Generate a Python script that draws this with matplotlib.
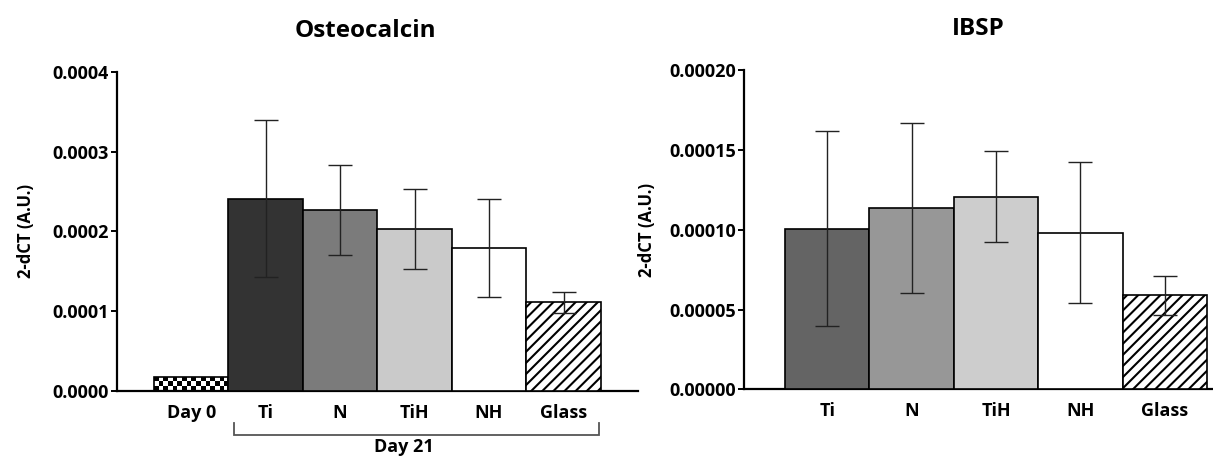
import numpy as np
import matplotlib
matplotlib.use('Agg')
import matplotlib.pyplot as plt
from matplotlib.ticker import FormatStrFormatter, MultipleLocator
import matplotlib.transforms as mtransforms

plt.rcParams['font.family'] = ['Open Sans', 'DejaVu Sans']
plt.rcParams['font.weight'] = 'bold'
plt.rcParams['hatch.linewidth'] = 1.5

# ---- data: Osteocalcin ----
oc_categories = ['Day 0', 'Ti', 'N', 'TiH', 'NH', 'Glass']
oc_values = [0.000018, 0.000241, 0.000227, 0.000203, 0.000179, 0.000111]
oc_errors = [np.nan, 0.0000985, 0.000057, 0.000050, 0.0000615, 0.0000135]

# ---- data: IBSP ----
ib_categories = ['Ti', 'N', 'TiH', 'NH', 'Glass']
ib_values = [0.0001006, 0.0001137, 0.0001207, 0.0000982, 0.0000590]
ib_errors = [0.0000612, 0.0000535, 0.0000284, 0.0000442, 0.0000122]

group_label = 'Day 21'
ylabel = '2-dCT (A.U.)'

# ---- styles ----
oc_colors = ['white', '#333333', '#7b7b7b', '#cacaca', 'white', 'white']
oc_hatches = [None, None, None, None, None, '///']
ib_colors = ['#646464', '#979797', '#cdcdcd', 'white', 'white']
ib_hatches = [None, None, None, None, '///']

TICK_FS = 13
fig = plt.figure(figsize=(12.13, 4.59), dpi=100)
W, H = 1213.0, 459.0
ax1 = fig.add_axes([116.7 / W, (H - 391) / H, 521.3 / W, 319 / H])
ax2 = fig.add_axes([744.0 / W, (H - 389.3) / H, 469.0 / W, 319 / H])


def style_axes(ax, fmt, step, top, title, title_pad):
    for s in ['top', 'right']:
        ax.spines[s].set_visible(False)
    for s in ['left', 'bottom']:
        ax.spines[s].set_linewidth(1.6)
    ax.set_ylim(0, top)
    ax.yaxis.set_major_locator(MultipleLocator(step))
    ax.yaxis.set_major_formatter(FormatStrFormatter(fmt))
    ax.tick_params(axis='y', length=4.5, width=1.4, pad=1.0, labelsize=TICK_FS)
    ax.tick_params(axis='x', length=0, pad=9, labelsize=TICK_FS)
    ax.set_title(title, fontsize=17.5, fontweight='bold', pad=title_pad)
    ax.set_ylabel(ylabel, fontsize=12, fontweight='bold')
    for lbl in ax.get_xticklabels() + ax.get_yticklabels():
        lbl.set_fontweight('bold')


def draw_bars(ax, cats, vals, errs, colors, hatches):
    x = np.arange(len(cats))
    bars = ax.bar(x, vals, width=1.0, color=colors, edgecolor='black',
                  linewidth=1.2, zorder=3)
    for b, h in zip(bars, hatches):
        if h:
            b.set_hatch(h)
    errs = np.asarray(errs, dtype=float)
    m = ~np.isnan(errs)
    ax.errorbar(x[m], np.asarray(vals)[m], yerr=errs[m], fmt='none',
                ecolor='#222222', elinewidth=1.0, capsize=8.5,
                capthick=1.0, zorder=5)
    ax.set_xticks(x)
    ax.set_xticklabels(cats)
    return bars


# ---- left panel ----
bars1 = draw_bars(ax1, oc_categories, oc_values, oc_errors, oc_colors, oc_hatches)
# checkerboard fill for Day 0
b0 = bars1[0]
x0, y0, bw, bh = b0.get_x(), b0.get_y(), b0.get_width(), b0.get_height()
n_rows, n_cols = 3, 16
checker = np.add.outer(np.arange(n_rows), np.arange(n_cols)) % 2
im = ax1.imshow(checker, cmap='gray', extent=[x0, x0 + bw, y0, y0 + bh],
                aspect='auto', interpolation='nearest', zorder=2.5)
im.set_clip_path(b0)
b0.set_facecolor('none')
ax1.set_xlim(-1.0, 6.0)
style_axes(ax1, '%.4f', 0.0001, 0.0004, 'Osteocalcin', 25.5)
ax1.title.set_x(0.478)
ax1.yaxis.set_label_coords(-0.157, 0.5)

# bracket under Day 21 groups
trans = mtransforms.blended_transform_factory(ax1.transData, ax1.transAxes)
bx0 = 1 - 0.5 + 0.07
bx1 = len(oc_categories) - 1 + 0.5 - 0.02
ax1.plot([bx0, bx0, bx1, bx1], [-0.10, -0.138, -0.138, -0.10], transform=trans,
         color='#555555', lw=1.3, clip_on=False, solid_joinstyle='miter')
ax1.text(2.85, -0.175, group_label, transform=trans, ha='center', va='center',
         fontsize=TICK_FS, fontweight='bold')

# ---- right panel ----
draw_bars(ax2, ib_categories, ib_values, ib_errors, ib_colors, ib_hatches)
ax2.set_xlim(-0.984, 4.57)
style_axes(ax2, '%.5f', 0.00005, 0.0002, 'IBSP', 25.5)
ax2.yaxis.set_label_coords(-0.187, 0.5)

fig.savefig('out.png', dpi=100)
